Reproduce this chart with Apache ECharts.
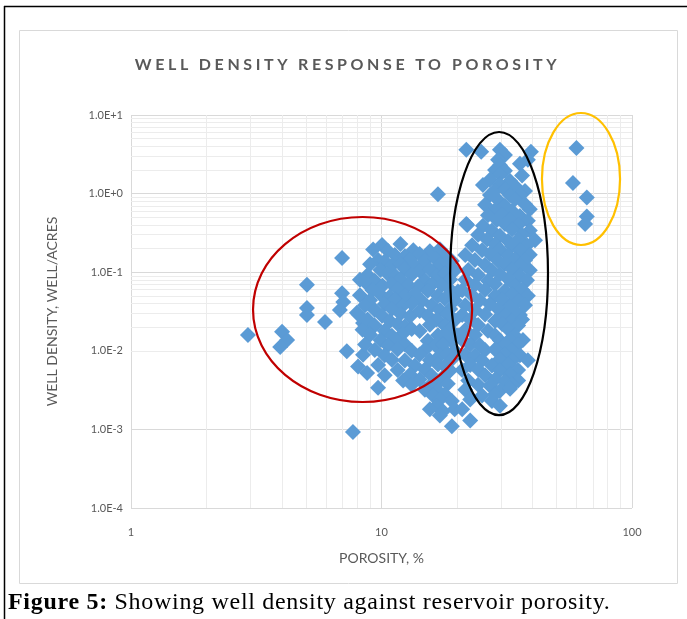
<!DOCTYPE html>
<html>
<head>
<meta charset="utf-8">
<script src="https://cdn.jsdelivr.net/npm/echarts@6/dist/echarts.min.js"></script>
<style>
  html, body { margin: 0; padding: 0; background: #fff; }
  #wrap { position: relative; width: 687px; height: 619px; overflow: hidden; }
  #chartmain { position: absolute; left: 0; top: 0; width: 687px; height: 619px; }
  #charttitle {
    position: absolute; left: 4px; top: 56px; width: 687px; text-align: center;
    font: bold 16px/16px Lato, sans-serif; letter-spacing: 3.6px; color: #595959;
    white-space: nowrap;
  }
  #caption {
    position: absolute; left: 8px; top: 589px; white-space: nowrap;
    font: 24px/24px "Liberation Serif", serif; letter-spacing: 0.7px; color: #000;
  }
</style>
</head>
<body>
<div id="wrap">
  <div id="chartmain"></div>
  <div id="charttitle">WELL DENSITY RESPONSE TO POROSITY</div>
  <div id="caption"><b>Figure 5:</b> Showing well density against reservoir porosity.</div>
</div>
<script>
// porosity (%) , well density (well/acres)
var leftPoints = [
  [2.93, 0.0159], [4.01, 0.0175], [4.2, 0.0137], [3.94, 0.0112],
  [5.04, 0.069], [5.04, 0.035], [5.04, 0.0285], [5.95, 0.0233],
  [6.96, 0.152], [6.96, 0.054], [7.04, 0.0418], [6.82, 0.033],
  [7.98, 0.0305], [8.44, 0.0226], [8.84, 0.0168], [7.27, 0.0099],
  [8.44, 0.0089], [8.06, 0.0063], [8.76, 0.0052], [9.69, 0.0034],
  [7.69, 0.00093]
];

var midPoints = [
  [10.05, 0.222], [11.9, 0.228],
  [9.26, 0.195], [10.6, 0.188], [13.4, 0.19], [15.6, 0.185], [17.1, 0.196],
  [11.3, 0.166], [12.4, 0.16], [14.2, 0.17], [18.1, 0.162],
  [9.7, 0.143], [10.3, 0.138], [13.0, 0.146], [14.9, 0.14], [16.4, 0.148], [19.1, 0.139],
  [9.0, 0.126], [11.0, 0.122], [11.9, 0.128], [13.6, 0.12], [17.1, 0.124], [18.4, 0.13],
  [9.9, 0.107], [12.4, 0.11], [14.2, 0.104], [15.6, 0.108], [19.6, 0.105],
  [8.8, 0.092], [10.6, 0.095], [11.4, 0.089], [13.2, 0.093], [16.6, 0.09], [17.9, 0.096],
  [8.2, 0.08], [9.4, 0.078], [11.9, 0.082], [14.9, 0.079], [18.8, 0.081],
  [8.8, 0.07], [10.1, 0.067], [11.0, 0.071], [12.8, 0.068], [14.0, 0.066], [15.9, 0.07], [17.4, 0.068],
  [9.2, 0.059], [11.6, 0.061], [15.3, 0.058], [18.8, 0.06], [20.2, 0.057],
  [8.2, 0.051], [9.9, 0.052], [10.8, 0.049], [12.4, 0.05], [13.6, 0.053], [16.8, 0.05],
  [9.0, 0.044], [11.3, 0.045], [14.5, 0.043], [17.9, 0.046], [19.6, 0.044],
  [8.6, 0.038], [10.3, 0.039], [12.1, 0.037], [13.2, 0.04], [15.9, 0.038],
  [9.4, 0.033], [11.0, 0.034], [14.2, 0.032], [17.1, 0.033], [18.8, 0.034],
  [8.1, 0.029], [10.05, 0.028], [11.9, 0.0295], [13.0, 0.0275], [15.3, 0.028], [18.25, 0.029],
  [8.8, 0.025], [10.8, 0.024], [16.6, 0.025], [19.6, 0.0245],
  [9.4, 0.021], [11.6, 0.022], [12.4, 0.0205], [15.6, 0.0215], [17.9, 0.021],
  [8.4, 0.0185], [10.3, 0.018], [13.2, 0.019], [14.2, 0.0178], [18.8, 0.0186],
  [9.0, 0.016], [11.0, 0.0155], [12.1, 0.0162], [16.8, 0.0158], [17.9, 0.0163], [20.2, 0.0156],
  [9.9, 0.0137], [11.3, 0.014], [15.3, 0.0134], [18.8, 0.0138],
  [8.6, 0.012], [10.6, 0.0117], [12.4, 0.0121], [16.4, 0.0118], [17.6, 0.012],
  [9.4, 0.0102], [11.6, 0.0105], [13.2, 0.01], [14.9, 0.0103], [19.6, 0.0101],
  [10.3, 0.0088], [14.2, 0.009], [17.1, 0.0087], [18.4, 0.0091],
  [11.0, 0.0077], [12.4, 0.0075], [15.6, 0.0076], [19.1, 0.0078],
  [9.7, 0.0066], [13.6, 0.0065], [16.8, 0.0067], [17.9, 0.0064],
  [11.6, 0.0057], [14.9, 0.0058], [18.8, 0.0056],
  [10.3, 0.0049], [13.0, 0.005], [15.9, 0.0048], [17.9, 0.0049],
  [12.2, 0.0042], [14.2, 0.0043], [17.1, 0.0041],
  [13.2, 0.0037], [15.6, 0.0036], [18.4, 0.0038],
  [14.9, 0.0032], [16.8, 0.0031],
  [16.05, 0.0027], [17.9, 0.0028],
  [17.1, 0.0024], [19.1, 0.0023],
  [16.6, 0.002],
  [15.6, 0.0018], [17.6, 0.0017], [19.6, 0.0018],
  [17.1, 0.0015],
  [19.1, 0.0011],
  [16.8, 0.98]
];

var highPoints = [
  [21.8, 3.6], [25.0, 3.4], [29.7, 3.6], [39.5, 3.4],
  [31.1, 3.1], [29.2, 2.7], [38.4, 2.7], [29.7, 2.3], [35.7, 2.4],
  [28.4, 2.0], [31.1, 1.95], [29.7, 1.75], [36.4, 1.7], [27.1, 1.5], [32.6, 1.45],
  [25.4, 1.29], [29.7, 1.3], [34.1, 1.25], [28.4, 1.1], [31.1, 1.12], [37.4, 1.08],
  [27.1, 0.96], [32.6, 0.95], [35.7, 0.98], [29.2, 0.83], [34.1, 0.85],
  [25.9, 0.72], [31.1, 0.7], [37.4, 0.73], [28.4, 0.62], [33.2, 0.6], [39.1, 0.63],
  [26.6, 0.53], [30.3, 0.54], [35.7, 0.52], [28.9, 0.46], [32.6, 0.47], [38.4, 0.45],
  [21.8, 0.41], [22.0, 0.4], [25.4, 0.39], [31.1, 0.41], [35.1, 0.4],
  [27.6, 0.34], [33.2, 0.35], [39.1, 0.34], [24.3, 0.3], [29.7, 0.29], [36.4, 0.3],
  [26.4, 0.26], [32.0, 0.25], [35.1, 0.26], [41.0, 0.255],
  [23.0, 0.22], [28.4, 0.225], [33.2, 0.215], [38.1, 0.22],
  [25.2, 0.19], [29.7, 0.195], [35.7, 0.188],
  [21.6, 0.166], [27.1, 0.17], [32.0, 0.163], [39.1, 0.167],
  [23.6, 0.143], [29.2, 0.14], [34.1, 0.146], [37.4, 0.142],
  [25.9, 0.124], [31.1, 0.127], [35.7, 0.121],
  [22.2, 0.107], [27.6, 0.105], [33.2, 0.109], [39.1, 0.106],
  [24.3, 0.092], [29.7, 0.094], [35.7, 0.09],
  [21.6, 0.08], [26.6, 0.078], [32.0, 0.082], [38.1, 0.079],
  [23.6, 0.069], [28.4, 0.071], [34.1, 0.068],
  [21.0, 0.059], [25.9, 0.06], [31.1, 0.058], [36.4, 0.06],
  [23.0, 0.051], [28.4, 0.05], [33.2, 0.052], [38.4, 0.05],
  [24.7, 0.044], [30.3, 0.045], [35.1, 0.043],
  [21.6, 0.038], [27.1, 0.039], [32.6, 0.037], [37.4, 0.038],
  [23.6, 0.033], [29.2, 0.034], [34.1, 0.032],
  [21.0, 0.0285], [25.9, 0.029], [31.1, 0.028], [35.7, 0.0285],
  [22.6, 0.025], [28.4, 0.024], [33.2, 0.0245], [36.4, 0.025],
  [24.3, 0.0213], [30.3, 0.022], [35.1, 0.021],
  [21.6, 0.0184], [26.6, 0.018], [32.0, 0.0188],
  [23.6, 0.016], [28.4, 0.0158], [34.1, 0.0155],
  [21.0, 0.0137], [29.7, 0.0135], [32.6, 0.014], [36.7, 0.0137],
  [22.6, 0.012], [24.7, 0.0118], [31.1, 0.0119], [35.1, 0.0121],
  [25.9, 0.0102], [28.4, 0.0104], [33.2, 0.01],
  [21.6, 0.0089], [23.6, 0.0087], [31.1, 0.009], [35.7, 0.0088],
  [25.2, 0.0076], [29.7, 0.0078], [33.2, 0.0075], [38.4, 0.0076],
  [22.6, 0.0066], [27.6, 0.0065], [32.0, 0.0067],
  [21.0, 0.0057], [24.3, 0.0058], [29.7, 0.0056], [35.1, 0.0057],
  [25.9, 0.0049], [32.6, 0.005],
  [22.2, 0.0042], [28.4, 0.0043], [31.1, 0.0041], [35.1, 0.0042],
  [24.3, 0.0037], [27.1, 0.0036], [33.2, 0.0037],
  [21.6, 0.0032], [29.7, 0.0031], [32.6, 0.0033],
  [25.2, 0.0027], [28.4, 0.0028],
  [22.6, 0.0024], [27.6, 0.0023],
  [29.7, 0.002], [21.0, 0.0018], [22.6, 0.0013]
];

var outlierPoints = [
  [60, 3.8], [58.1, 1.36], [66, 0.89], [66, 0.51], [65, 0.41]
];

// minor gridlines (Excel style 2..9 in every decade)
var xMinor = [2, 3, 4, 5, 6, 7, 8, 9, 20, 30, 40, 50, 60, 70, 80, 90];
var yMinor = [];
[0.0001, 0.001, 0.01, 0.1, 1].forEach(function (d) {
  for (var k = 2; k <= 9; k++) yMinor.push(+(d * k).toPrecision(2));
});

// ellipses: [left x, right x, top y, bottom y] in data units
var redRing = [3.07, 23, 0.504, 0.00223];
var blackRing = [18.8, 46.2, 6.08, 0.00152];
var goldRing = [43.7, 89.6, 10.6, 0.222];

var labelColor = '#595959';
var font = 'Lato';

var minorLines = [];
xMinor.forEach(function (v) { minorLines.push({ xAxis: v }); });
yMinor.forEach(function (v) { minorLines.push({ yAxis: v }); });

var myChart = echarts.init(document.getElementById('chartmain'));

var option = {
  animation: false,
  grid: { left: 131, right: 55, top: 115, bottom: 111 },
  xAxis: {
    type: 'log',
    logBase: 10,
    min: 1,
    max: 100,
    name: 'POROSITY, %',
    nameLocation: 'middle',
    nameGap: 43,
    nameTextStyle: { color: labelColor, fontSize: 14, fontFamily: font },
    axisLine: { show: false },
    axisTick: { show: false },
    axisLabel: {
      color: labelColor, fontSize: 11, fontFamily: font, margin: 19,
      formatter: function (v) { return String(Math.round(v)); }
    },
    splitLine: { show: true, lineStyle: { color: '#d9d9d9', width: 1 } }
  },
  yAxis: {
    type: 'log',
    logBase: 10,
    min: 0.0001,
    max: 10,
    name: 'WELL DENSITY, WELL/ACRES',
    nameLocation: 'middle',
    nameGap: 72,
    nameTextStyle: { color: labelColor, fontSize: 14, fontFamily: font },
    axisLine: { show: false },
    axisTick: { show: false },
    axisLabel: {
      color: labelColor, fontSize: 11, fontFamily: font, margin: 8,
      formatter: function (v) { return v.toExponential(1).toUpperCase(); }
    },
    splitLine: { show: true, lineStyle: { color: '#d9d9d9', width: 1 } }
  },
  series: [
    {
      type: 'scatter',
      name: 'minor',
      data: [],
      silent: true,
      markLine: {
        silent: true,
        symbol: 'none',
        label: { show: false },
        lineStyle: { color: '#ececec', width: 1, type: 'solid' },
        data: minorLines,
        z: 0
      },
      z: 0
    },
    {
      type: 'scatter',
      symbol: 'diamond',
      symbolSize: 16,
      itemStyle: { color: '#5B9BD5', opacity: 1 },
      data: leftPoints.concat(midPoints, highPoints, outlierPoints),
      z: 3
    }
  ]
};

myChart.setOption(option);

function ring(id, r, color) {
  var a = myChart.convertToPixel({ gridIndex: 0 }, [r[0], r[2]]);
  var b = myChart.convertToPixel({ gridIndex: 0 }, [r[1], r[3]]);
  return {
    id: id,
    type: 'ellipse',
    z: 10,
    shape: { cx: (a[0] + b[0]) / 2, cy: (a[1] + b[1]) / 2, rx: Math.abs(b[0] - a[0]) / 2, ry: Math.abs(b[1] - a[1]) / 2 },
    style: { fill: null, stroke: color, lineWidth: 2.2 }
  };
}

myChart.setOption({
  graphic: [
    { id: 'outerTop', type: 'line', shape: { x1: 4, y1: 6.5, x2: 687, y2: 6.5 }, style: { stroke: '#000', lineWidth: 1.5 } },
    { id: 'outerLeft', type: 'line', shape: { x1: 4.5, y1: 6, x2: 4.5, y2: 619 }, style: { stroke: '#000', lineWidth: 1.5 } },
    { id: 'box', type: 'rect', z: -1, shape: { x: 19.5, y: 30.5, width: 658, height: 553 }, style: { fill: null, stroke: '#d9d9d9', lineWidth: 1 } },
    ring('red', redRing, '#C00000'),
    ring('black', blackRing, '#000000'),
    ring('gold', goldRing, '#FFC000')
  ]
});
</script>
</body>
</html>
